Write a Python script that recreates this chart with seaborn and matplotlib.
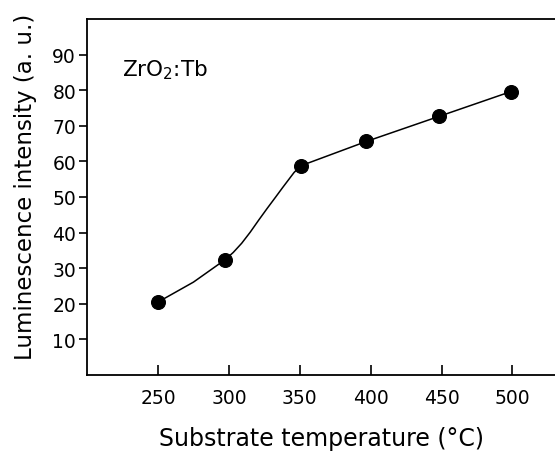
import numpy as np
import pandas as pd
import seaborn as sns
import matplotlib.pyplot as plt

# measured points (substrate temperature, intensity)
temp = [250, 297, 351, 397, 448, 499]
intensity = [20.5, 32.3, 58.8, 65.6, 72.6, 79.6]

# hand-drawn guide curve
curve_temp = [250, 275, 297, 303, 309, 315, 321, 327, 333, 338, 342, 346, 351, 397, 448, 499]
curve_int = [20.5, 26.1, 32.3, 34.4, 37.0, 40.1, 43.5, 46.8, 50.0, 52.7, 54.8, 56.9, 58.8, 65.6, 72.6, 79.6]

x_ticks = [250, 300, 350, 400, 450, 500]
y_ticks = [10, 20, 30, 40, 50, 60, 70, 80, 90]

sns.set_theme(style="ticks")
plt.rcParams['font.family'] = ['DejaVu Sans']
plt.rcParams['text.color'] = 'black'
plt.rcParams['axes.labelcolor'] = 'black'

pts = pd.DataFrame({'temp': temp, 'intensity': intensity})
curve = pd.DataFrame({'temp': curve_temp, 'intensity': curve_int})

fig = plt.figure(figsize=(5.55, 4.52), dpi=100)
ax = fig.add_axes([0.157, 0.168, 0.843, 0.788])

sns.lineplot(data=curve, x='temp', y='intensity', ax=ax, color='black',
             linewidth=1.1, sort=False, estimator=None)
sns.scatterplot(data=pts, x='temp', y='intensity', ax=ax, color='black',
                s=100, edgecolor='black', zorder=3)

ax.set_xlim(200, 530)
ax.set_ylim(0, 100)
ax.set_xticks(x_ticks)
ax.set_yticks(y_ticks)
ax.tick_params(axis='x', direction='in', length=7, width=1.2, labelsize=13.5, pad=9,
               colors='black')
ax.tick_params(axis='y', direction='out', length=6, width=1.2, labelsize=13.5, pad=2,
               colors='black')

ax.spines['right'].set_visible(False)
for s in ['left', 'bottom', 'top']:
    ax.spines[s].set_linewidth(1.3)
    ax.spines[s].set_color('black')

ax.set_xlabel('Substrate temperature (°C)', fontsize=17, labelpad=14, color='black')
ax.set_ylabel('Luminescence intensity (a. u.)', fontsize=16.5, color='black')
ax.yaxis.set_label_coords(-0.108, 0.53)

ax.text(0.075, 0.86, r'ZrO$_2$:Tb', transform=ax.transAxes, fontsize=15.5,
        va='center', ha='left', color='black')

fig.savefig('out.png', dpi=100)
